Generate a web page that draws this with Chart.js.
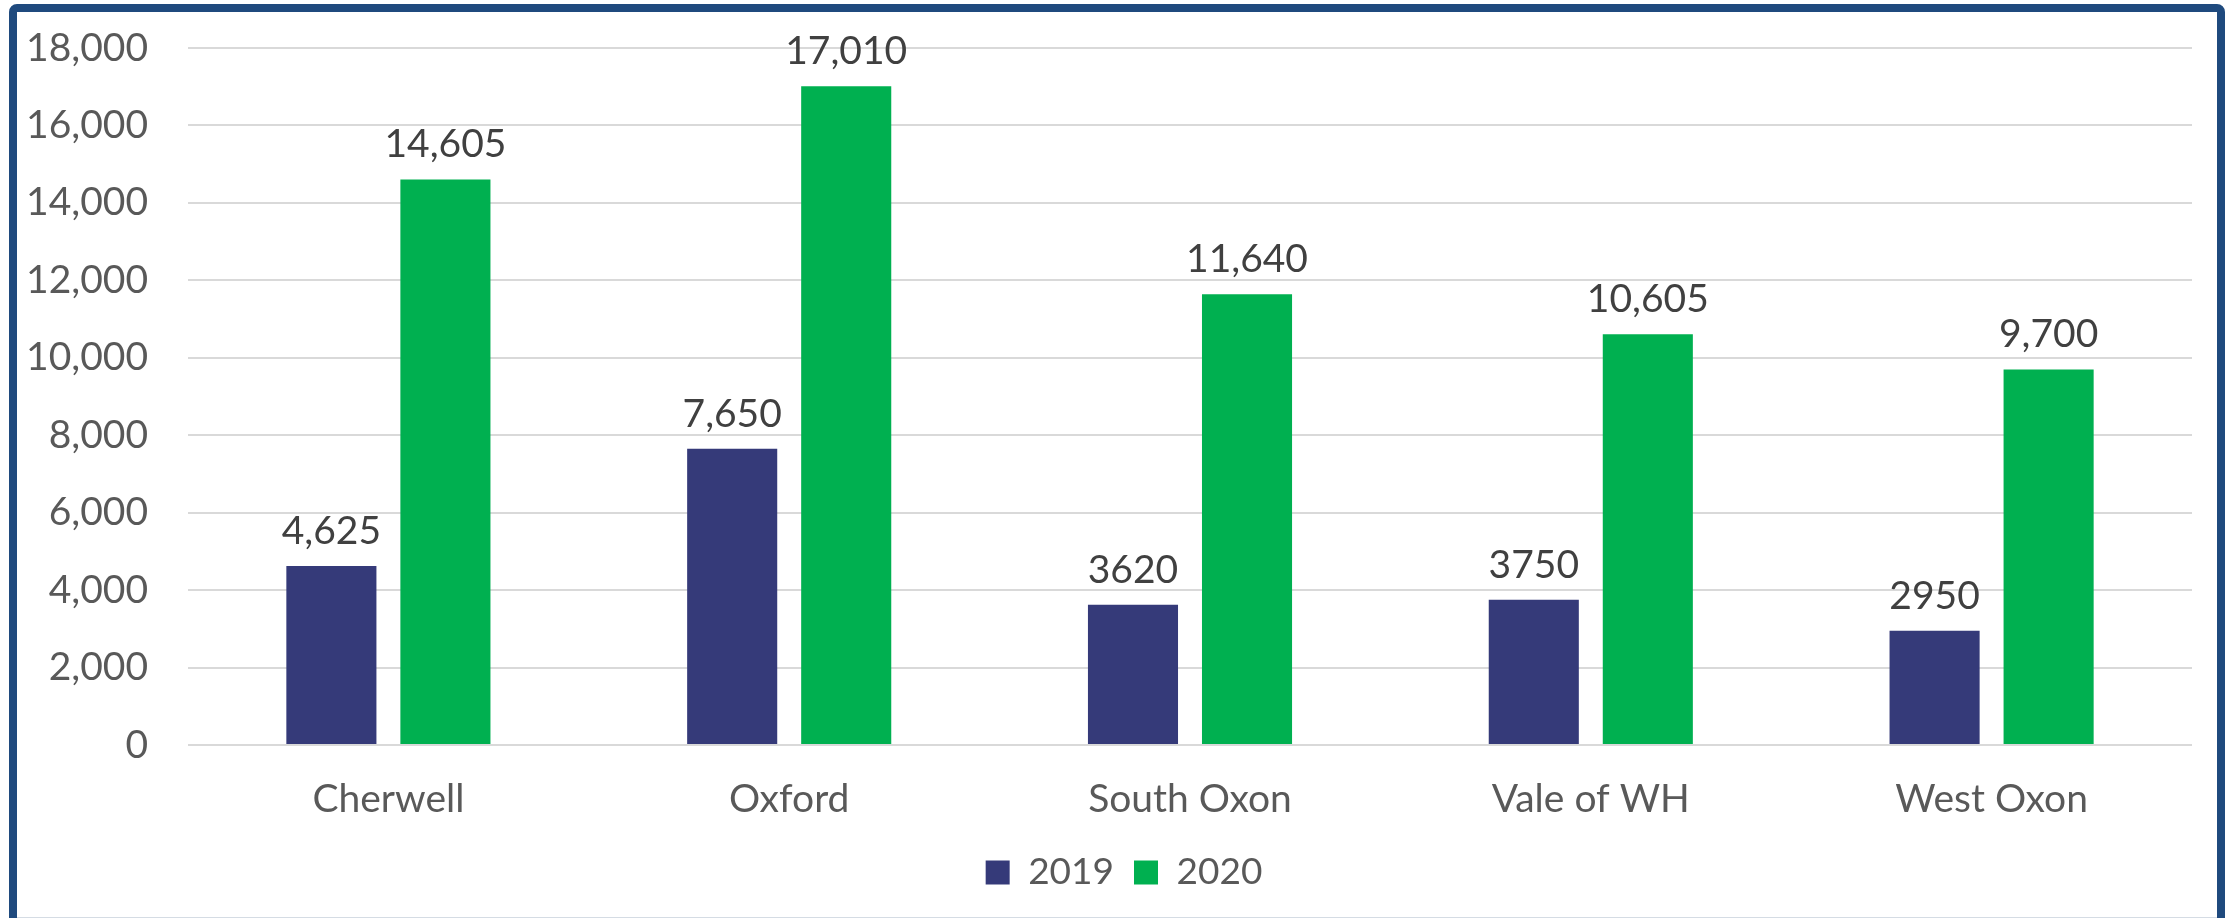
<!DOCTYPE html>
<html>
<head>
<meta charset="utf-8">
<script src="https://cdn.jsdelivr.net/npm/chart.js@4.4.1/dist/chart.umd.min.js"></script>
<style>
  html, body { margin: 0; padding: 0; background: #fff; overflow: hidden; }
  .wrap { position: relative; width: 2226px; height: 918px; }
  .frame {
    position: absolute; left: 9px; top: 4px; width: 2216px; height: 960px;
    border: 8px solid #1f4a7e; border-radius: 8px; box-sizing: border-box;
    pointer-events: none;
  }
  .baseline { position: absolute; left: 15px; right: 9px; top: 917px; height: 1px; background: #d5dce4; }
  canvas { position: absolute; left: 0; top: 0; }
</style>
</head>
<body>
<div class="wrap">
  <canvas id="chart" width="2226" height="918"></canvas>
  <div class="baseline"></div>
  <div class="frame"></div>
</div>
<script>
const districts = ['Cherwell', 'Oxford', 'South Oxon', 'Vale of WH', 'West Oxon'];
const values2019 = [4625, 7650, 3620, 3750, 2950];
const values2020 = [14605, 17010, 11640, 10605, 9700];
// labels as printed on the chart (formatting is not consistent in the original)
const labels2019 = ['4,625', '7,650', '3620', '3750', '2950'];
const labels2020 = ['14,605', '17,010', '11,640', '10,605', '9,700'];
const yMax = 18000;
const yStep = 2000;

const font = 'Lato';
const fontSize = 39;

// value labels above each bar
const barLabels = {
    id: 'barLabels',
    afterDatasetsDraw(chart) {
        const ctx = chart.ctx;
        ctx.save();
        ctx.font = fontSize + 'px ' + font;
        ctx.fillStyle = '#404040';
        ctx.textAlign = 'center';
        ctx.textBaseline = 'alphabetic';
        chart.data.datasets.forEach((ds, i) => {
            chart.getDatasetMeta(i).data.forEach((bar, j) => {
                ctx.fillText(ds.valueLabels[j], bar.x, bar.y - 22);
            });
        });
        ctx.restore();
    }
};

// legend sits centred on the whole frame, not on the padded area
const legendShift = {
    id: 'legendShift',
    afterLayout(chart) {
        chart.legend.left += 28;
        chart.legend.right += 28;
    }
};

new Chart(document.getElementById('chart'), {
    type: 'bar',
    data: {
        labels: districts,
        datasets: [{
            label: '2019',
            data: values2019,
            valueLabels: labels2019,
            backgroundColor: '#353a79',
            categoryPercentage: 0.569,
            barPercentage: 0.79
        }, {
            label: '2020',
            data: values2020,
            valueLabels: labels2020,
            backgroundColor: '#00b050',
            categoryPercentage: 0.569,
            barPercentage: 0.79
        }]
    },
    plugins: [barLabels, legendShift],
    options: {
        responsive: false,
        animation: false,
        layout: { padding: { top: 48, right: 34, bottom: 17, left: 0 } },
        scales: {
            x: {
                grid: { display: false },
                border: { display: false },
                ticks: { color: '#595959', font: { family: font, size: fontSize }, padding: 23 },
                afterFit(scale) { scale.height = 89; }
            },
            y: {
                min: 0,
                max: yMax,
                grid: { color: '#d9d9d9', lineWidth: 2, drawTicks: false },
                border: { display: false },
                ticks: {
                    stepSize: yStep,
                    color: '#595959',
                    font: { family: font, size: fontSize },
                    padding: 40,
                    callback: v => v.toLocaleString('en-US')
                },
                afterFit(scale) {
                    scale.width = 188;
                    // keep the tick padding from pushing the plot area down
                    scale.paddingTop = 0;
                    scale.paddingBottom = 0;
                }
            }
        },
        plugins: {
            legend: {
                position: 'bottom',
                labels: {
                    color: '#595959',
                    font: { family: font, size: 37 },
                    boxWidth: 24,
                    boxHeight: 24,
                    padding: 20
                }
            },
            tooltip: { enabled: false }
        }
    }
});
</script>
</body>
</html>
